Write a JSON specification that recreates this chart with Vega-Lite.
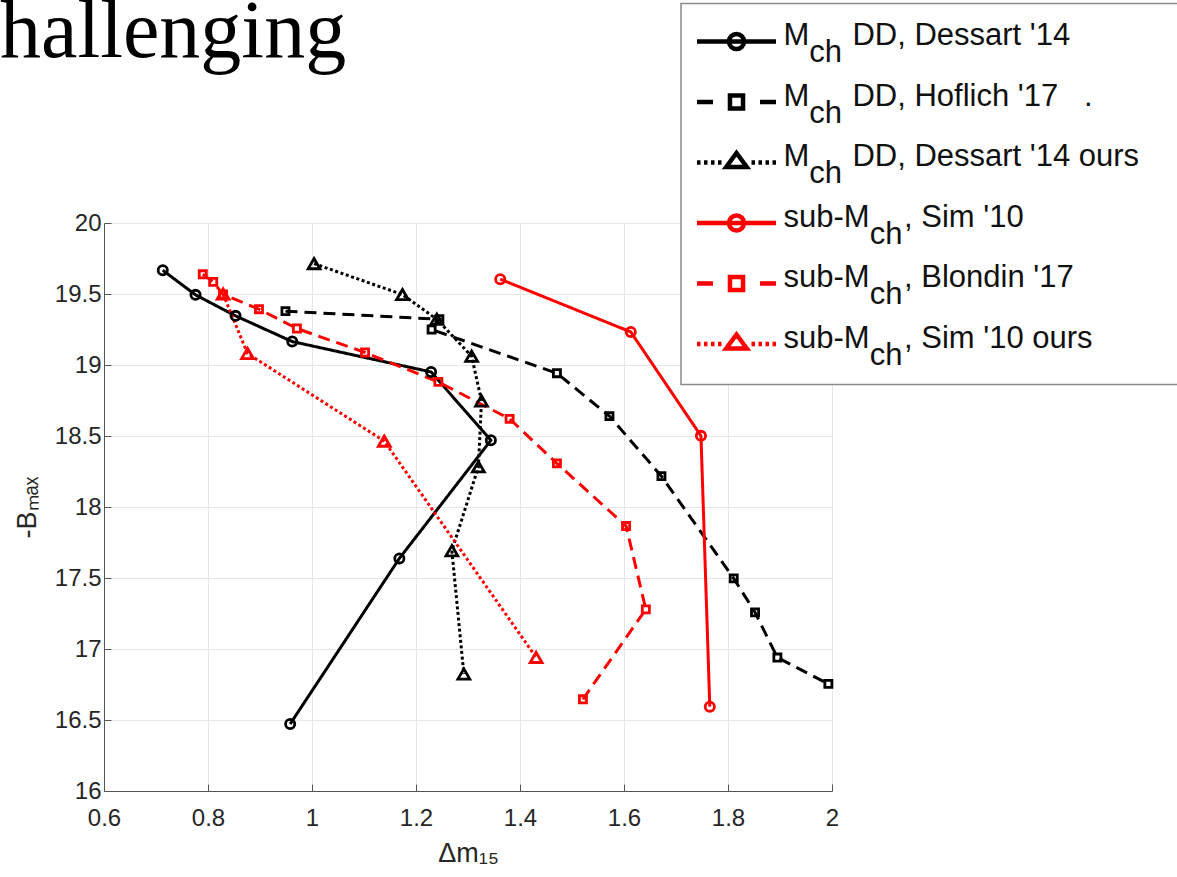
{
  "$schema": "https://vega.github.io/schema/vega-lite/v6.json",
  "width": 728,
  "height": 568,
  "autosize": {"type": "none"},
  "padding": {"left": 104, "top": 223, "right": 345, "bottom": 86},
  "background": "white",
  "title": {
    "text": "hallenging",
    "orient": "top",
    "anchor": "start",
    "frame": "group",
    "font": "Liberation Serif",
    "fontSize": 82,
    "fontWeight": "normal",
    "color": "#000000",
    "baseline": "alphabetic",
    "offset": 0,
    "dx": -104,
    "dy": 136
  },
  "data": {
    "values": [
      {"s": "Mch DD, Dessart '14", "i": 0, "dm15": 0.713, "bmax": 19.667},
      {"s": "Mch DD, Dessart '14", "i": 1, "dm15": 0.776, "bmax": 19.494},
      {"s": "Mch DD, Dessart '14", "i": 2, "dm15": 0.853, "bmax": 19.346},
      {"s": "Mch DD, Dessart '14", "i": 3, "dm15": 0.962, "bmax": 19.165},
      {"s": "Mch DD, Dessart '14", "i": 4, "dm15": 1.229, "bmax": 18.951},
      {"s": "Mch DD, Dessart '14", "i": 5, "dm15": 1.344, "bmax": 18.470},
      {"s": "Mch DD, Dessart '14", "i": 6, "dm15": 1.168, "bmax": 17.638},
      {"s": "Mch DD, Dessart '14", "i": 7, "dm15": 0.958, "bmax": 16.472},
      {"s": "Mch DD, Hoflich '17\u00a0\u00a0\u00a0.", "i": 0, "dm15": 0.949, "bmax": 19.379},
      {"s": "Mch DD, Hoflich '17\u00a0\u00a0\u00a0.", "i": 1, "dm15": 1.245, "bmax": 19.322},
      {"s": "Mch DD, Hoflich '17\u00a0\u00a0\u00a0.", "i": 2, "dm15": 1.230, "bmax": 19.250},
      {"s": "Mch DD, Hoflich '17\u00a0\u00a0\u00a0.", "i": 3, "dm15": 1.471, "bmax": 18.942},
      {"s": "Mch DD, Hoflich '17\u00a0\u00a0\u00a0.", "i": 4, "dm15": 1.572, "bmax": 18.640},
      {"s": "Mch DD, Hoflich '17\u00a0\u00a0\u00a0.", "i": 5, "dm15": 1.672, "bmax": 18.217},
      {"s": "Mch DD, Hoflich '17\u00a0\u00a0\u00a0.", "i": 6, "dm15": 1.811, "bmax": 17.497},
      {"s": "Mch DD, Hoflich '17\u00a0\u00a0\u00a0.", "i": 7, "dm15": 1.852, "bmax": 17.258},
      {"s": "Mch DD, Hoflich '17\u00a0\u00a0\u00a0.", "i": 8, "dm15": 1.895, "bmax": 16.940},
      {"s": "Mch DD, Hoflich '17\u00a0\u00a0\u00a0.", "i": 9, "dm15": 1.993, "bmax": 16.754},
      {"s": "Mch DD, Dessart '14 ours", "i": 0, "dm15": 1.004, "bmax": 19.714},
      {"s": "Mch DD, Dessart '14 ours", "i": 1, "dm15": 1.174, "bmax": 19.496},
      {"s": "Mch DD, Dessart '14 ours", "i": 2, "dm15": 1.240, "bmax": 19.322},
      {"s": "Mch DD, Dessart '14 ours", "i": 3, "dm15": 1.307, "bmax": 19.062},
      {"s": "Mch DD, Dessart '14 ours", "i": 4, "dm15": 1.326, "bmax": 18.747},
      {"s": "Mch DD, Dessart '14 ours", "i": 5, "dm15": 1.320, "bmax": 18.283},
      {"s": "Mch DD, Dessart '14 ours", "i": 6, "dm15": 1.269, "bmax": 17.692},
      {"s": "Mch DD, Dessart '14 ours", "i": 7, "dm15": 1.292, "bmax": 16.824},
      {"s": "sub-Mch, Sim '10", "i": 0, "dm15": 1.362, "bmax": 19.604},
      {"s": "sub-Mch, Sim '10", "i": 1, "dm15": 1.613, "bmax": 19.233},
      {"s": "sub-Mch, Sim '10", "i": 2, "dm15": 1.748, "bmax": 18.501},
      {"s": "sub-Mch, Sim '10", "i": 3, "dm15": 1.765, "bmax": 16.594},
      {"s": "sub-Mch, Blondin '17", "i": 0, "dm15": 0.790, "bmax": 19.639},
      {"s": "sub-Mch, Blondin '17", "i": 1, "dm15": 0.810, "bmax": 19.585},
      {"s": "sub-Mch, Blondin '17", "i": 2, "dm15": 0.829, "bmax": 19.497},
      {"s": "sub-Mch, Blondin '17", "i": 3, "dm15": 0.898, "bmax": 19.393},
      {"s": "sub-Mch, Blondin '17", "i": 4, "dm15": 0.971, "bmax": 19.257},
      {"s": "sub-Mch, Blondin '17", "i": 5, "dm15": 1.102, "bmax": 19.088},
      {"s": "sub-Mch, Blondin '17", "i": 6, "dm15": 1.243, "bmax": 18.881},
      {"s": "sub-Mch, Blondin '17", "i": 7, "dm15": 1.380, "bmax": 18.621},
      {"s": "sub-Mch, Blondin '17", "i": 8, "dm15": 1.471, "bmax": 18.307},
      {"s": "sub-Mch, Blondin '17", "i": 9, "dm15": 1.604, "bmax": 17.866},
      {"s": "sub-Mch, Blondin '17", "i": 10, "dm15": 1.642, "bmax": 17.279},
      {"s": "sub-Mch, Blondin '17", "i": 11, "dm15": 1.521, "bmax": 16.646},
      {"s": "sub-Mch, Sim '10 ours", "i": 0, "dm15": 0.829, "bmax": 19.500},
      {"s": "sub-Mch, Sim '10 ours", "i": 1, "dm15": 0.876, "bmax": 19.081},
      {"s": "sub-Mch, Sim '10 ours", "i": 2, "dm15": 1.139, "bmax": 18.464},
      {"s": "sub-Mch, Sim '10 ours", "i": 3, "dm15": 1.431, "bmax": 16.941}
    ]
  },
  "encoding": {
    "x": {
      "field": "dm15",
      "type": "quantitative",
      "scale": {"domain": [0.6, 2], "nice": false, "zero": false},
      "axis": {
        "values": [0.6, 0.8, 1, 1.2, 1.4, 1.6, 1.8, 2],
        "format": "~g",
        "grid": true,
        "gridColor": "#e6e6e6",
        "gridWidth": 1,
        "domainColor": "#555555",
        "domainWidth": 1,
        "tickColor": "#555555",
        "tickWidth": 1,
        "tickSize": -7,
        "labelPadding": 22,
        "labelFont": "Liberation Sans",
        "labelFontSize": 24,
        "labelColor": "#262626",
        "labelFlush": false,
        "labelOverlap": false,
        "title": "\u0394m\u2081\u2085",
        "titleFont": "Liberation Sans",
        "titleFontSize": 27,
        "titleFontWeight": "normal",
        "titleColor": "#262626",
        "titlePadding": 10
      }
    },
    "y": {
      "field": "bmax",
      "type": "quantitative",
      "scale": {"domain": [16, 20], "nice": false, "zero": false},
      "axis": {
        "values": [16, 16.5, 17, 17.5, 18, 18.5, 19, 19.5, 20],
        "format": "~g",
        "grid": true,
        "gridColor": "#e6e6e6",
        "gridWidth": 1,
        "domainColor": "#555555",
        "domainWidth": 1,
        "tickColor": "#555555",
        "tickWidth": 1,
        "tickSize": -7,
        "labelPadding": 10,
        "labelFont": "Liberation Sans",
        "labelFontSize": 24,
        "labelColor": "#262626",
        "labelOverlap": false,
        "title": "-B\u2098\u2090\u2093",
        "titleFont": "Liberation Sans",
        "titleFontSize": 27,
        "titleFontWeight": "normal",
        "titleColor": "#262626",
        "titlePadding": 13
      }
    }
  },
  "layer": [
    {
      "mark": {"type": "line", "strokeWidth": 3},
      "encoding": {
        "color": {
          "field": "s", "type": "nominal",
          "scale": {"range": ["#000000", "#000000", "#000000", "#ff0000", "#ff0000", "#ff0000"]},
          "legend": null
        },
        "strokeDash": {
          "field": "s", "type": "nominal",
          "scale": {"range": [[1, 0], [3, 2.6], [12, 7], [12, 7], [1, 0], [3, 2.6]]},
          "legend": null
        },
        "order": {"field": "i", "type": "quantitative"}
      }
    },
    {
      "transform": [{"filter": {"field": "s", "oneOf": ["Mch DD, Dessart '14", "sub-Mch, Sim '10"]}}],
      "mark": {"type": "point", "shape": "circle", "size": 85, "filled": false, "strokeWidth": 2.8, "opacity": 1},
      "encoding": {"color": {"field": "s", "type": "nominal", "legend": null}}
    },
    {
      "transform": [{"filter": {"field": "s", "oneOf": ["Mch DD, Hoflich '17\u00a0\u00a0\u00a0.", "sub-Mch, Blondin '17"]}}],
      "mark": {"type": "point", "shape": "square", "size": 50, "filled": false, "strokeWidth": 2.8, "opacity": 1},
      "encoding": {"color": {"field": "s", "type": "nominal", "legend": null}}
    },
    {
      "transform": [{"filter": {"field": "s", "oneOf": ["Mch DD, Dessart '14 ours", "sub-Mch, Sim '10 ours"]}}],
      "mark": {"type": "point", "shape": "triangle-up", "size": 140, "filled": false, "strokeWidth": 2.8, "opacity": 1},
      "encoding": {"color": {"field": "s", "type": "nominal", "legend": null}}
    },
    {
      "mark": {"type": "point", "filled": false, "opacity": 0, "size": 1892, "strokeWidth": 4.5},
      "encoding": {
        "shape": {
          "field": "s", "type": "nominal",
          "scale": {
            "domain": ["Mch DD, Dessart '14", "Mch DD, Hoflich '17\u00a0\u00a0\u00a0.", "Mch DD, Dessart '14 ours", "sub-Mch, Sim '10", "sub-Mch, Blondin '17", "sub-Mch, Sim '10 ours"],
            "range": [
              "M-1.816,0L1.816,0M0.345,0A0.345,0.345,0,1,1,-0.345,0A0.345,0.345,0,1,1,0.345,0Z",
              "M-1.816,0L-1.08,0M1.08,0L1.816,0M-0.3,-0.3L0.3,-0.3L0.3,0.3L-0.3,0.3Z",
              "M-1.816,0L-1.655,0M-1.494,0L-1.333,0M-1.172,0L-1.011,0M-0.851,0L-0.69,0M0.69,0L0.851,0M1.011,0L1.172,0M1.333,0L1.494,0M1.655,0L1.816,0M0,-0.437L0.474,0.207L-0.474,0.207Z",
              "M-1.816,0L1.816,0M0.345,0A0.345,0.345,0,1,1,-0.345,0A0.345,0.345,0,1,1,0.345,0Z",
              "M-1.816,0L-1.08,0M1.08,0L1.816,0M-0.3,-0.3L0.3,-0.3L0.3,0.3L-0.3,0.3Z",
              "M-1.816,0L-1.655,0M-1.494,0L-1.333,0M-1.172,0L-1.011,0M-0.851,0L-0.69,0M0.69,0L0.851,0M1.011,0L1.172,0M1.333,0L1.494,0M1.655,0L1.816,0M0,-0.437L0.474,0.207L-0.474,0.207Z"
            ]
          },
          "legend": {
            "title": null,
            "orient": "none",
            "legendX": 577,
            "legendY": -219.5,
            "direction": "vertical",
            "padding": 14,
            "fillColor": "#ffffff",
            "strokeColor": "#8a8a8a",
            "symbolSize": 1892,
            "symbolStrokeWidth": 4.5,
            "symbolOffset": 17.5,
            "symbolOpacity": 1,
            "symbolFillColor": "transparent",
            "labelFont": "Liberation Sans",
            "labelFontSize": 31,
            "labelColor": "#111111",
            "labelLimit": 900,
            "labelOffset": 23,
            "labelBaseline": "alphabetic",
            "rowPadding": 9.5,
            "labelExpr": "[replace(datum.label, 'ch', '\u00a0\u00a0\u00a0\u00a0'), '\u200b' + (indexof(datum.label, 'sub') == 0 ? '\u00a0\u00a0\u00a0\u00a0\u00a0\u00a0\u00a0\u00a0\u00a0\u00a0ch\u00a0\u00a0\u00a0\u00a0\u00a0\u00a0\u00a0\u00a0\u00a0\u00a0\u00a0\u00a0\u00a0\u00a0\u00a0\u00a0\u00a0\u00a0\u00a0\u00a0\u00a0\u00a0\u00a0\u00a0\u00a0\u00a0\u00a0\u00a0\u00a0\u00a0\u00a0' : '\u00a0\u00a0\u00a0ch\u00a0\u00a0\u00a0\u00a0\u00a0\u00a0\u00a0\u00a0\u00a0\u00a0\u00a0\u00a0\u00a0\u00a0\u00a0\u00a0\u00a0\u00a0\u00a0\u00a0\u00a0\u00a0\u00a0\u00a0\u00a0\u00a0\u00a0\u00a0\u00a0\u00a0\u00a0\u00a0\u00a0\u00a0\u00a0\u00a0\u00a0\u00a0') + '\u200b']",
            "encoding": {
              "symbols": {"stroke": {"value": {"expr": "scale('color', datum.value)"}}, "fill": {"value": "transparent"}},
              "labels": {"dy": {"value": 3.5}, "lineHeight": {"value": 17}},
              "legend": {"strokeWidth": {"value": 1.5}}
            }
          }
        }
      }
    }
  ],
  "config": {
    "view": {"stroke": null},
    "font": "Liberation Sans"
  }
}
